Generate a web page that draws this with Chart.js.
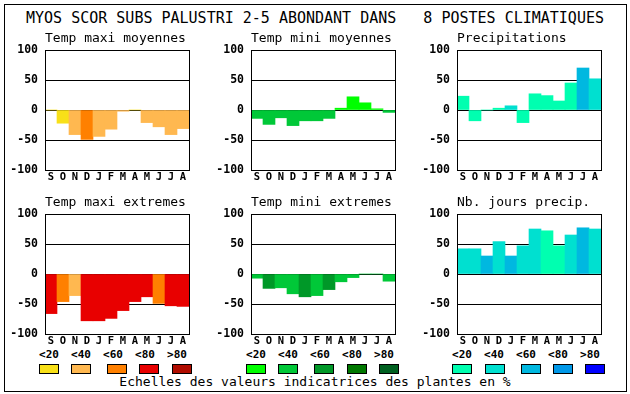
<!DOCTYPE html>
<html>
<head>
<meta charset="utf-8">
<script src="https://cdn.jsdelivr.net/npm/chart.js@4.4.1/dist/chart.umd.min.js"></script>
<style>
  body { margin: 0; width: 630px; height: 394px; background: #fff; position: relative; overflow: hidden; font-family: "DejaVu Sans Mono", monospace; color: #000; }
  #frame { position: absolute; left: 4px; top: 4px; width: 621px; height: 386px; border: 1px solid #000; }
  canvas { position: absolute; }
  .txt { position: absolute; white-space: pre; text-align: center; }
  .lbl { position: absolute; width: 30px; text-align: center; font: bold 11px "DejaVu Sans Mono", monospace; line-height: 12px; }
  .box { position: absolute; width: 18px; height: 8px; border: 1px solid #000; }
</style>
</head>
<body>
<div id="frame"></div>
<div class="txt" id="mainTitle" style="left:0; width:630px; top:10px; font-size:15px; line-height:16px;"></div>
<div class="txt" id="footer" style="left:0; width:630px; top:375px; font-size:13px; line-height:14px;"></div>
<div id="legend"></div>

<script>
// mois (septembre -> aout)
var months = ["S", "O", "N", "D", "J", "F", "M", "A", "M", "J", "J", "A"];
var classLabels = ["<20", "<40", "<60", "<80", ">80"];

var mainTitle = "MYOS SCOR SUBS PALUSTRI 2-5 ABONDANT DANS   8 POSTES CLIMATIQUES";
var footer = "Echelles des valeurs indicatrices des plantes en %";

// valeurs et classe (0..4) de chaque barre
var maxiMoy = [0, -22, -41, -49, -44, -32, -2, 0, -21, -28, -41, -31];
var maxiMoyCls = [0, 0, 1, 2, 1, 1, 1, 0, 1, 1, 1, 1];

var miniMoy = [-14, -24, -13, -26, -18, -18, -14, 3, 22, 12, 2, -4];
var miniMoyCls = [1, 1, 1, 1, 1, 1, 1, 0, 0, 0, 0, 1];

var precip = [23, -18, 0, 3, 7, -21, 27, 24, 15, 45, 70, 52];
var precipCls = [0, 0, 0, 0, 1, 0, 0, 0, 0, 0, 2, 1];

var maxiExt = [-66, -46, -36, -78, -78, -74, -61, -46, -38, -49, -53, -54];
var maxiExtCls = [3, 2, 1, 3, 3, 3, 3, 3, 3, 2, 3, 3];

var miniExt = [-7, -24, -23, -33, -38, -36, -26, -13, -6, 0, 0, -12];
var miniExtCls = [1, 2, 1, 1, 2, 1, 2, 1, 1, 1, 1, 1];

var nbJours = [42, 42, 30, 54, 30, 47, 75, 72, 47, 65, 77, 75];
var nbJoursCls = [1, 1, 2, 1, 2, 1, 1, 0, 0, 1, 2, 1];

// couleurs des echelles
var warm = ["#f8e018", "#ffb850", "#ff8000", "#e80000", "#b00c00"];
var green = ["#00ff00", "#00c838", "#009828", "#007800", "#006020"];
var cool = ["#00ffb0", "#00e0d0", "#00b8e0", "#0098e8", "#0000ff"];

var panels = [
  { title: "Temp maxi moyennes", values: maxiMoy, cls: maxiMoyCls, pal: warm, x: 45, y: 50 },
  { title: "Temp mini moyennes", values: miniMoy, cls: miniMoyCls, pal: green, x: 251, y: 50 },
  { title: "Precipitations", values: precip, cls: precipCls, pal: cool, x: 457, y: 50 },
  { title: "Temp maxi extremes", values: maxiExt, cls: maxiExtCls, pal: warm, x: 45, y: 214 },
  { title: "Temp mini extremes", values: miniExt, cls: miniExtCls, pal: green, x: 251, y: 214 },
  { title: "Nb. jours precip.", values: nbJours, cls: nbJoursCls, pal: cool, x: 457, y: 214 },
];

var AXW = 45, TOP = 22, XH = 18, PW = 144, PH = 120, RP = 6;
var tickFont = { family: "'DejaVu Sans Mono', monospace", size: 11.5, weight: "bold" };
var monthFont = { family: "'DejaVu Sans Mono', monospace", size: 10.5, weight: "bold" };

// cadre + titre de chaque graphique
var panelDeco = {
  id: "panelDeco",
  afterDraw: function (chart, args, opts) {
    var c = chart.ctx, a = chart.chartArea;
    c.save();
    c.strokeStyle = "#000";
    c.lineWidth = 1;
    c.strokeRect(Math.round(a.left) + 0.5, Math.round(a.top) + 0.5, Math.round(a.right - a.left), Math.round(a.bottom - a.top));
    c.fillStyle = "#000";
    c.font = "13px 'DejaVu Sans Mono', monospace";
    c.textAlign = "left";
    c.textBaseline = "alphabetic";
    c.fillText(opts.text, a.left, a.top - 8);
    c.restore();
  },
};

panels.forEach(function (p) {
  var cv = document.createElement("canvas");
  cv.width = AXW + PW + RP;
  cv.height = TOP + PH + XH;
  cv.style.left = (p.x - AXW) + "px";
  cv.style.top = (p.y - TOP) + "px";
  document.body.appendChild(cv);

  new Chart(cv.getContext("2d"), {
    type: "bar",
    data: {
      labels: months,
      datasets: [
        {
          data: p.values,
          backgroundColor: p.cls.map(function (k) { return p.pal[k]; }),
          borderWidth: 0,
          barPercentage: 1,
          categoryPercentage: 1,
        },
      ],
    },
    options: {
      responsive: false,
      animation: false,
      devicePixelRatio: 1,
      layout: { padding: { top: TOP, right: RP, left: 0, bottom: 0 } },
      plugins: {
        legend: { display: false },
        tooltip: { enabled: false },
        panelDeco: { text: p.title },
      },
      scales: {
        x: {
          grid: { display: false, drawTicks: false },
          border: { display: false },
          ticks: { color: "#000", font: monthFont, padding: 1, maxRotation: 0, autoSkip: false },
          afterFit: function (s) { s.height = XH; },
        },
        y: {
          min: -100,
          max: 100,
          z: 1,
          grid: { color: "#000", lineWidth: 1, drawTicks: false },
          border: { display: false },
          ticks: { stepSize: 50, color: "#000", font: tickFont, padding: 7 },
          afterFit: function (s) { s.width = AXW; },
        },
      },
    },
    plugins: [panelDeco],
  });
});

document.getElementById("mainTitle").textContent = mainTitle;
document.getElementById("footer").textContent = footer;

// legende des echelles
var legend = document.getElementById("legend");
var groups = [
  { pal: warm, lblX: 34, boxX: [39, 71, 107, 139, 172] },
  { pal: green, lblX: 241, boxX: [246, 278, 314, 347, 379] },
  { pal: cool, lblX: 447, boxX: [452, 485, 521, 553, 585] },
];
groups.forEach(function (g) {
  classLabels.forEach(function (t, i) {
    var l = document.createElement("div");
    l.className = "lbl";
    l.textContent = t;
    l.style.left = (g.lblX + i * 32) + "px";
    l.style.top = "349px";
    legend.appendChild(l);

    var b = document.createElement("div");
    b.className = "box";
    b.style.left = g.boxX[i] + "px";
    b.style.top = "364px";
    b.style.background = g.pal[i];
    legend.appendChild(b);
  });
});
</script>
</body>
</html>
